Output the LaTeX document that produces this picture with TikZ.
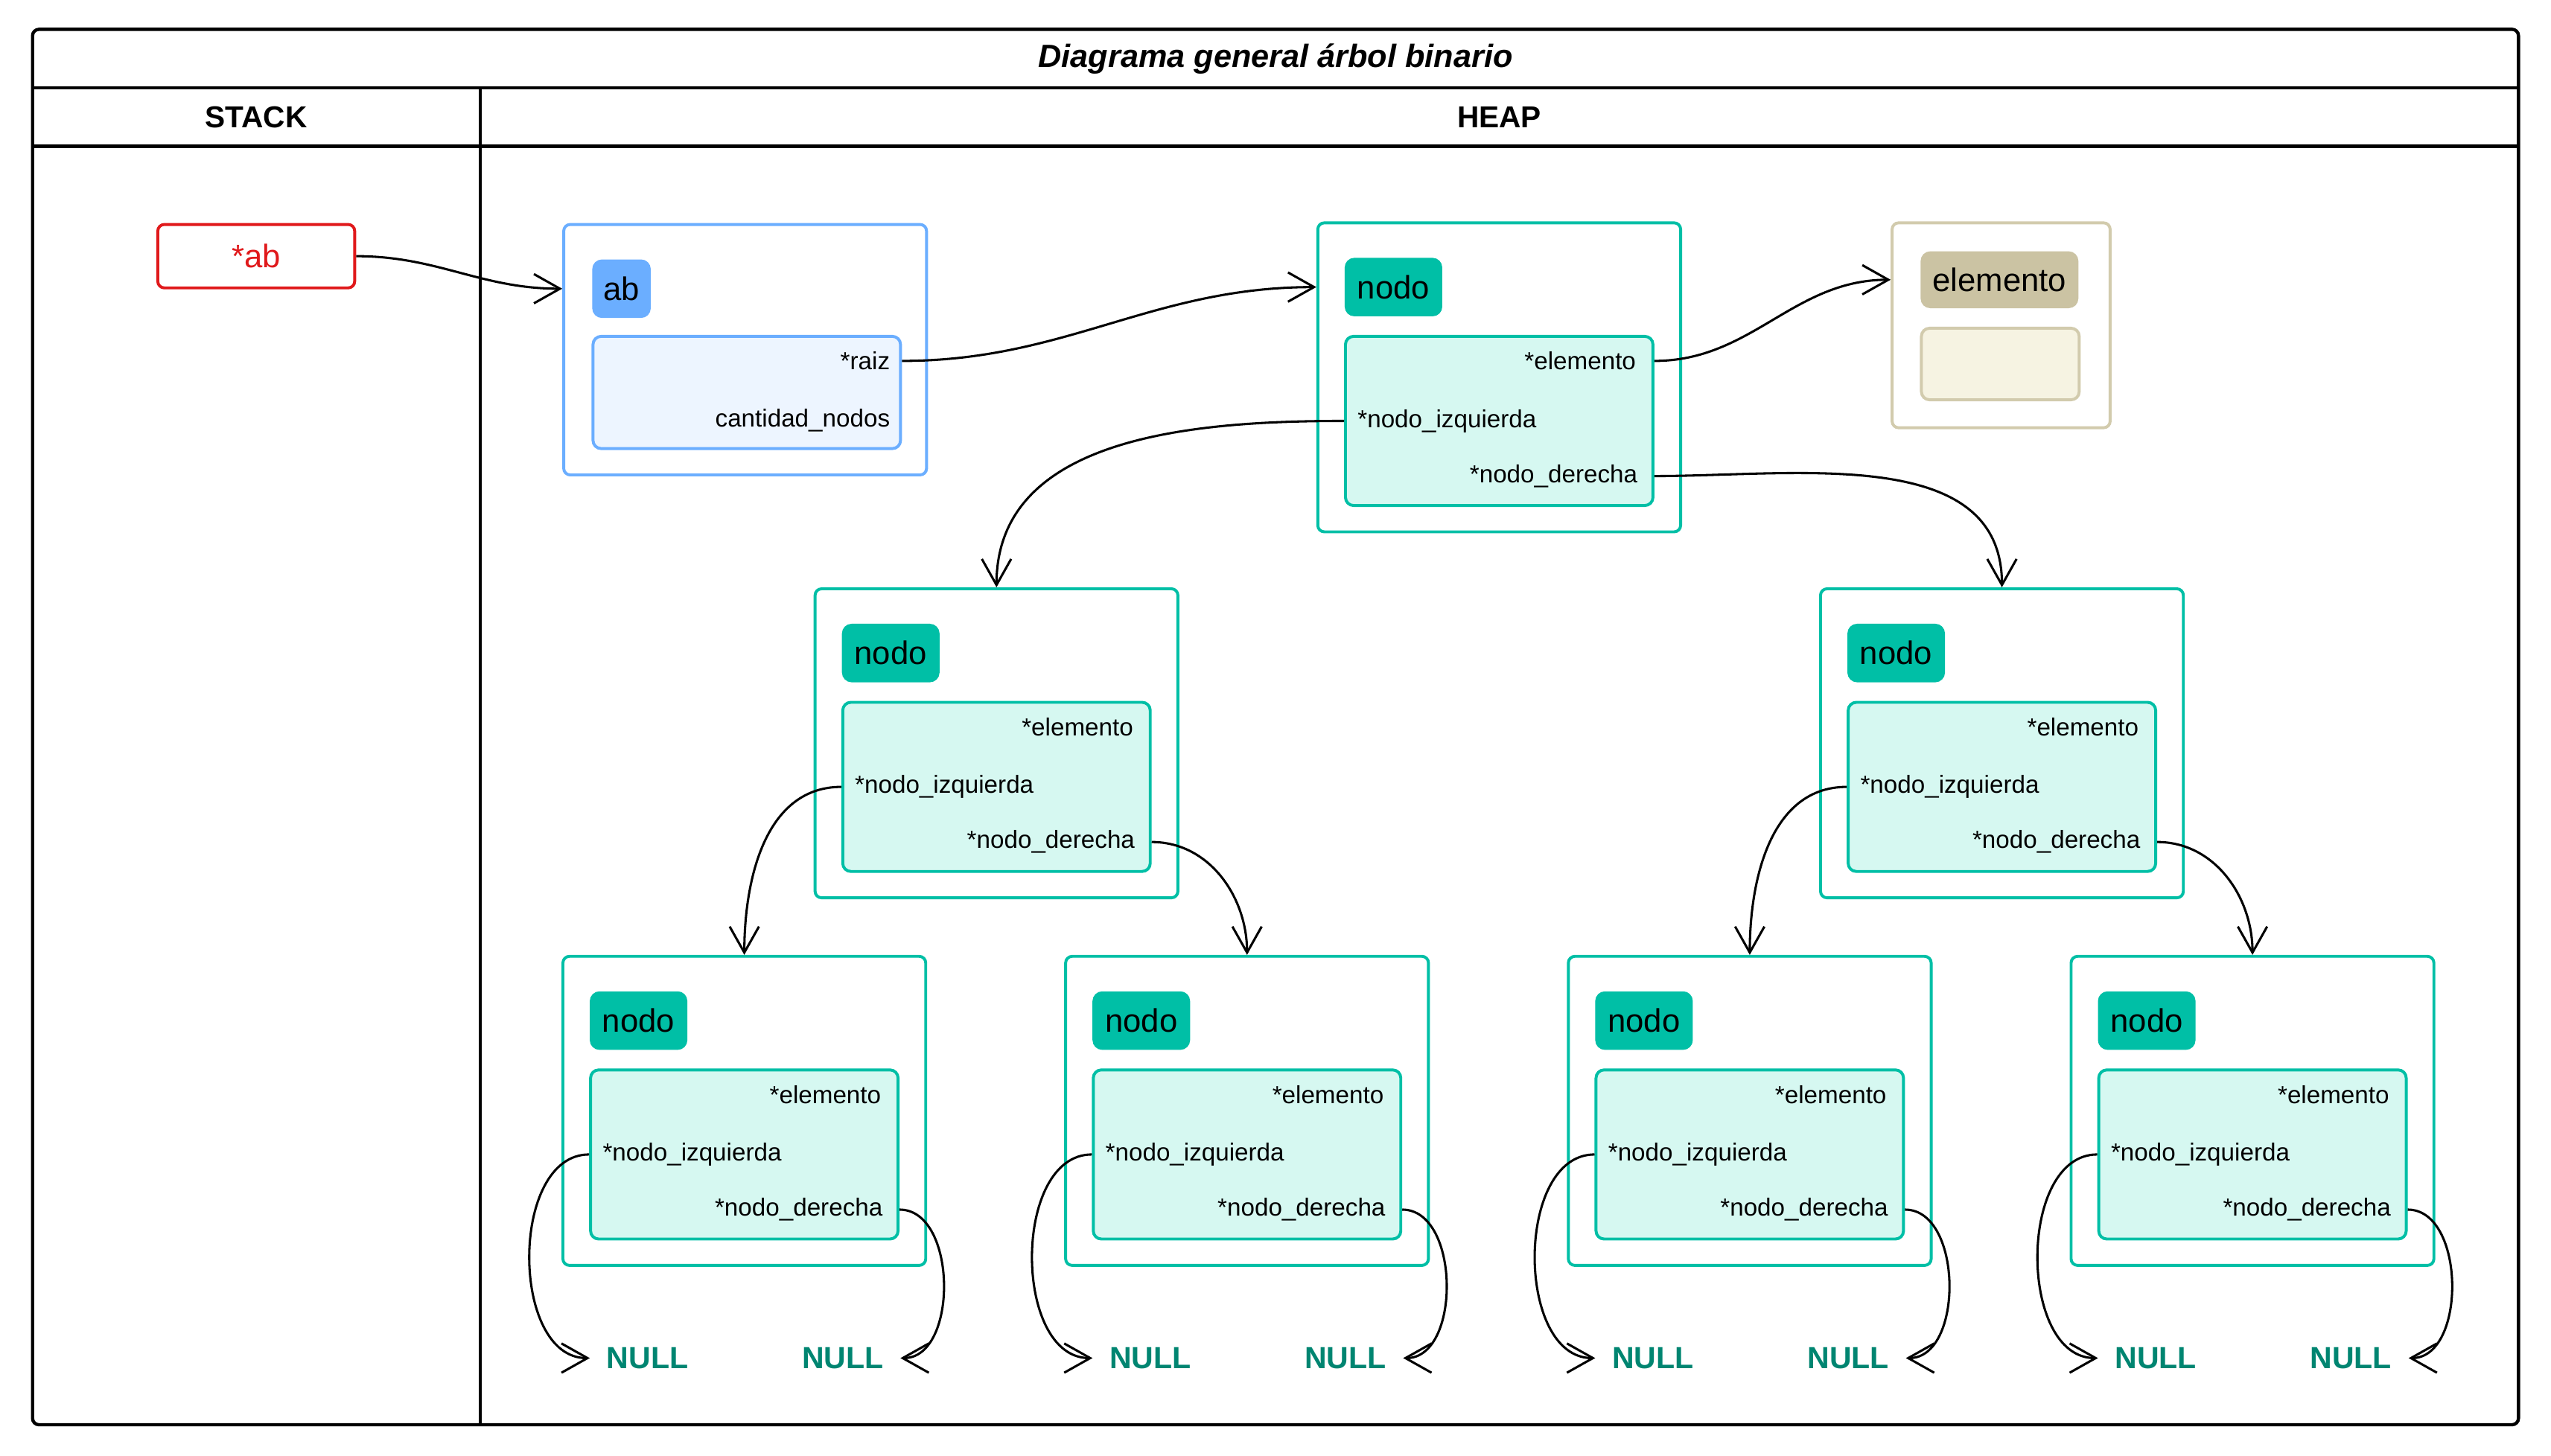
\documentclass[tikz,border=0pt]{standalone}
\usepackage{fontspec}
\setmainfont{Liberation Sans}
\usepackage{xcolor}
\usepackage{tikz}
\usetikzlibrary{arrows.meta,positioning}
\definecolor{verde}{HTML}{00BFA6}
\definecolor{verdeclaro}{HTML}{D6F8F1}
\definecolor{verdeoscuro}{HTML}{008571}
\definecolor{azul}{HTML}{6BAEFF}
\definecolor{azulclaro}{HTML}{EDF5FF}
\definecolor{arena}{HTML}{D2CBAD}
\definecolor{arenatag}{HTML}{CBC3A3}
\definecolor{arenaclaro}{HTML}{F6F3E2}
\definecolor{rojo}{HTML}{E0191B}

\begin{document}
\begin{tikzpicture}[x=0.5pt,y=0.5pt]
\tikzstyle{marco}=[line width=1pt]
\tikzstyle{cabecera}=[font=\bfseries\fontsize{9.3}{11}\selectfont]
\tikzstyle{caja}=[rectangle, rounded corners=2pt, draw=verde, line width=0.9pt, minimum width=111.5pt, minimum height=95pt]
\tikzstyle{etiqueta}=[rectangle, rounded corners=3pt, fill=verde, inner sep=0pt, minimum width=30pt, minimum height=18pt, font=\fontsize{10}{12}\selectfont]
\tikzstyle{campos}=[rectangle, rounded corners=2.5pt, draw=verde, fill=verdeclaro, line width=0.9pt, minimum width=94.5pt, minimum height=52pt]
\tikzstyle{campo}=[inner sep=0pt, font=\fontsize{7.6}{9}\selectfont]
\tikzstyle{puntero}=[rectangle, rounded corners=2pt, draw=rojo, text=rojo, line width=0.9pt, minimum width=60.5pt, minimum height=19.5pt, font=\fontsize{10}{12}\selectfont]
\tikzstyle{nulo}=[inner xsep=5pt, inner ysep=0pt, text=verdeoscuro, font=\bfseries\fontsize{9.4}{11}\selectfont]
\tikzstyle{connect}=[-{Straight Barb[length=8pt,width=9pt]}, line width=0.7pt]
\useasboundingbox (0,0) rectangle (1568,-895);
% marco
\draw[marco, rounded corners=2pt] (20,-18) rectangle (1548,-876);
\draw[marco] (20,-54) -- (1548,-54) (20,-90) -- (1548,-90);
\draw[line width=0.9pt] (295,-54) -- (295,-876);
\node[font=\bfseries\itshape\fontsize{9.9}{12}\selectfont] (titulo) at (784,-36) {Diagrama general árbol binario};
\node[cabecera] (stack) at (157.5,-72) {STACK};
\node[cabecera] (heap) at (921.5,-72) {HEAP};

% stack
\node[puntero] (ptr) at (157.5,-157.5) {*ab};

% ab
\node[caja, draw=azul, minimum height=77pt] (ab) at (458,-215) {};
\node[etiqueta, fill=azul, minimum width=18pt, below right=11pt and 9pt of ab.north west] (tab) {ab};
\node[campos, draw=azul, fill=azulclaro, minimum height=34.5pt, below right=5pt and 0pt of tab.south west] (cab) {};
\node[campo, left=3.5pt of cab.north east, yshift=-8pt] (raiz) {*raiz};
\node[campo, left=3.5pt of cab.south east, yshift=9pt] (cant) {cantidad\_nodos};

% elemento
\node[caja, draw=arena, minimum width=67pt, minimum height=63pt] (el) at (1230,-200) {};
\node[etiqueta, fill=arenatag, minimum width=48.5pt, minimum height=17.5pt, below right=9pt and 9pt of el.north west] (tel) {elemento};
\node[campos, draw=arena, fill=arenaclaro, minimum width=48.5pt, minimum height=22pt, below right=5.5pt and 0pt of tel.south west] (cel) {};

% nodo raiz
\node[caja] (n0) at (921.5,-232) {};
\node[etiqueta, below right=11pt and 8.5pt of n0.north west] (t0) {nodo};
\node[campos, below right=5.5pt and 0pt of t0.south west] (c0) {};
\node[campo, left=5.5pt of c0.north east, yshift=-8pt] (e0) {*elemento};
\node[campo, right=4pt of c0.west] (i0) {*nodo\_izquierda};
\node[campo, left=5pt of c0.south east, yshift=9.5pt] (d0) {*nodo\_derecha};

% nivel 1
\node[caja] (n1) at (612.5,-457) {};
\node[etiqueta, below right=11pt and 8.5pt of n1.north west] (t1) {nodo};
\node[campos, below right=5.5pt and 0pt of t1.south west] (c1) {};
\node[campo, left=5.5pt of c1.north east, yshift=-8pt] (e1) {*elemento};
\node[campo, right=4pt of c1.west] (i1) {*nodo\_izquierda};
\node[campo, left=5pt of c1.south east, yshift=9.5pt] (d1) {*nodo\_derecha};

\node[caja] (n2) at (1230.5,-457) {};
\node[etiqueta, below right=11pt and 8.5pt of n2.north west] (t2) {nodo};
\node[campos, below right=5.5pt and 0pt of t2.south west] (c2) {};
\node[campo, left=5.5pt of c2.north east, yshift=-8pt] (e2) {*elemento};
\node[campo, right=4pt of c2.west] (i2) {*nodo\_izquierda};
\node[campo, left=5pt of c2.south east, yshift=9.5pt] (d2) {*nodo\_derecha};

% nivel 2
\node[caja] (n3) at (457.5,-683) {};
\node[etiqueta, below right=11pt and 8.5pt of n3.north west] (t3) {nodo};
\node[campos, below right=5.5pt and 0pt of t3.south west] (c3) {};
\node[campo, left=5.5pt of c3.north east, yshift=-8pt] (e3) {*elemento};
\node[campo, right=4pt of c3.west] (i3) {*nodo\_izquierda};
\node[campo, left=5pt of c3.south east, yshift=9.5pt] (d3) {*nodo\_derecha};

\node[caja] (n4) at (766.5,-683) {};
\node[etiqueta, below right=11pt and 8.5pt of n4.north west] (t4) {nodo};
\node[campos, below right=5.5pt and 0pt of t4.south west] (c4) {};
\node[campo, left=5.5pt of c4.north east, yshift=-8pt] (e4) {*elemento};
\node[campo, right=4pt of c4.west] (i4) {*nodo\_izquierda};
\node[campo, left=5pt of c4.south east, yshift=9.5pt] (d4) {*nodo\_derecha};

\node[caja] (n5) at (1075.5,-683) {};
\node[etiqueta, below right=11pt and 8.5pt of n5.north west] (t5) {nodo};
\node[campos, below right=5.5pt and 0pt of t5.south west] (c5) {};
\node[campo, left=5.5pt of c5.north east, yshift=-8pt] (e5) {*elemento};
\node[campo, right=4pt of c5.west] (i5) {*nodo\_izquierda};
\node[campo, left=5pt of c5.south east, yshift=9.5pt] (d5) {*nodo\_derecha};

\node[caja] (n6) at (1384.5,-683) {};
\node[etiqueta, below right=11pt and 8.5pt of n6.north west] (t6) {nodo};
\node[campos, below right=5.5pt and 0pt of t6.south west] (c6) {};
\node[campo, left=5.5pt of c6.north east, yshift=-8pt] (e6) {*elemento};
\node[campo, right=4pt of c6.west] (i6) {*nodo\_izquierda};
\node[campo, left=5pt of c6.south east, yshift=9.5pt] (d6) {*nodo\_derecha};

% NULL
\node[nulo] (z3l) at (398,-835) {NULL};
\node[nulo] (z3r) at (518,-835) {NULL};
\node[nulo] (z4l) at (707,-835) {NULL};
\node[nulo] (z4r) at (827,-835) {NULL};
\node[nulo] (z5l) at (1016,-835) {NULL};
\node[nulo] (z5r) at (1136,-835) {NULL};
\node[nulo] (z6l) at (1325,-835) {NULL};
\node[nulo] (z6r) at (1445,-835) {NULL};

% punteros
\draw[connect] (ptr.east) to[out=0,in=180] (ab.west |- tab);
\draw[connect] (raiz -| cab.east) to[out=0,in=180] (n0.west |- t0);
\draw[connect] (e0 -| c0.east) to[out=0,in=180] (el.west |- tel);
\draw[connect] (i0 -| c0.west) to[out=180,in=90] (n1.north);
\draw[connect] (d0 -| c0.east) to[out=0,in=90] (n2.north);
\draw[connect] (i1 -| c1.west) to[out=180,in=90] (n3.north);
\draw[connect] (d1 -| c1.east) to[out=0,in=90] (n4.north);
\draw[connect] (i2 -| c2.west) to[out=180,in=90] (n5.north);
\draw[connect] (d2 -| c2.east) to[out=0,in=90] (n6.north);
\draw[connect] (i3 -| c3.west) to[out=180,in=180] (z3l.west);
\draw[connect] (d3 -| c3.east) to[out=0,in=0] (z3r.east);
\draw[connect] (i4 -| c4.west) to[out=180,in=180] (z4l.west);
\draw[connect] (d4 -| c4.east) to[out=0,in=0] (z4r.east);
\draw[connect] (i5 -| c5.west) to[out=180,in=180] (z5l.west);
\draw[connect] (d5 -| c5.east) to[out=0,in=0] (z5r.east);
\draw[connect] (i6 -| c6.west) to[out=180,in=180] (z6l.west);
\draw[connect] (d6 -| c6.east) to[out=0,in=0] (z6r.east);
\end{tikzpicture}
\end{document}
